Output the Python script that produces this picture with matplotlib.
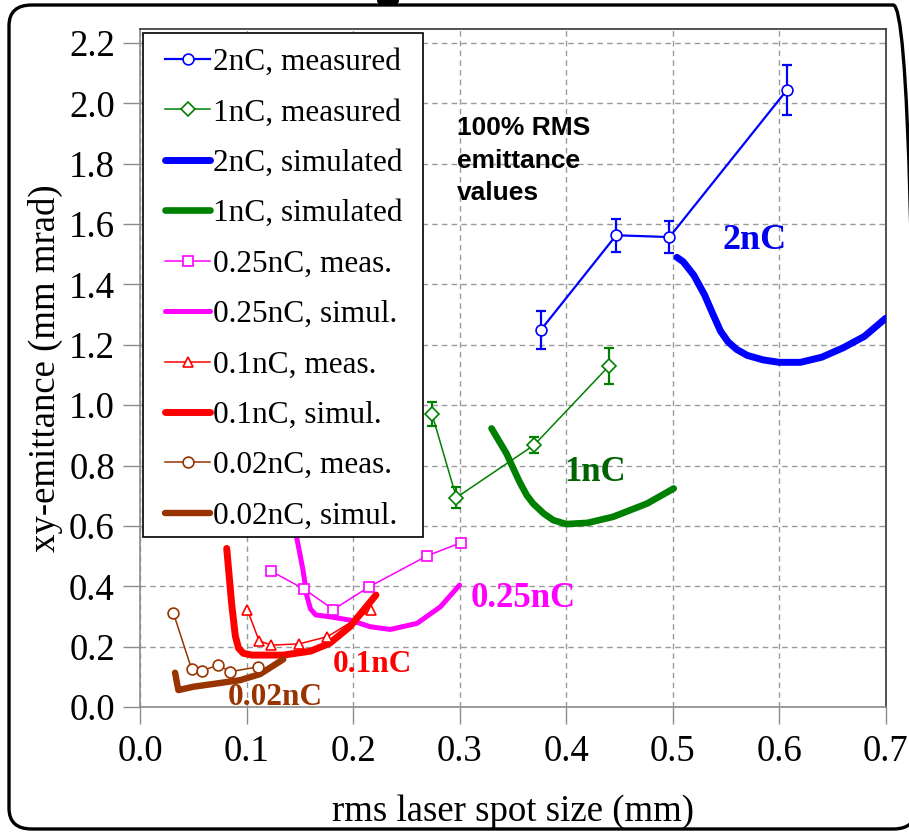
import matplotlib
matplotlib.use("Agg")
import matplotlib.pyplot as plt
from matplotlib.patches import FancyBboxPatch, Ellipse, Rectangle

# ---------------- data ----------------
x_2nC_meas = [0.376, 0.447, 0.497, 0.607]
y_2nC_meas = [1.248, 1.563, 1.557, 2.043]
e_2nC_meas = [0.063, 0.055, 0.052, 0.083]

x_1nC_meas = [0.274, 0.297, 0.370, 0.440]
y_1nC_meas = [0.972, 0.694, 0.868, 1.129]
e_1nC_meas = [0.040, 0.036, 0.028, 0.060]

x_2nC_sim = [0.504, 0.510, 0.520, 0.530, 0.538, 0.545, 0.552, 0.560, 0.570, 0.585, 0.600, 0.620, 0.640, 0.660, 0.680, 0.700]
y_2nC_sim = [1.490, 1.475, 1.430, 1.365, 1.300, 1.245, 1.210, 1.185, 1.165, 1.150, 1.142, 1.142, 1.159, 1.190, 1.228, 1.288]

x_1nC_sim = [0.330, 0.344, 0.354, 0.357, 0.363, 0.369, 0.379, 0.388, 0.400, 0.420, 0.444, 0.476, 0.501]
y_1nC_sim = [0.923, 0.840, 0.763, 0.741, 0.702, 0.674, 0.641, 0.619, 0.606, 0.610, 0.630, 0.674, 0.724]

x_025_meas = [0.123, 0.154, 0.1815, 0.215, 0.269, 0.301]
y_025_meas = [0.450, 0.391, 0.323, 0.398, 0.500, 0.544]

x_025_sim = [0.145, 0.147, 0.153, 0.1565, 0.160, 0.165, 0.178, 0.197, 0.216, 0.235, 0.260, 0.282, 0.300]
y_025_sim = [0.650, 0.563, 0.454, 0.370, 0.325, 0.305, 0.299, 0.288, 0.266, 0.257, 0.277, 0.332, 0.404]

x_01_meas = [0.1007, 0.1117, 0.123, 0.149, 0.176, 0.2165]
y_01_meas = [0.323, 0.220, 0.205, 0.209, 0.233, 0.321]

x_01_sim = [0.0814, 0.086, 0.0895, 0.0925, 0.097, 0.105, 0.1345, 0.160, 0.178, 0.197, 0.2215]
y_01_sim = [0.5255, 0.343, 0.235, 0.195, 0.178, 0.172, 0.172, 0.185, 0.211, 0.266, 0.371]

x_002_meas = [0.0313, 0.0485, 0.058, 0.0735, 0.0845, 0.111]
y_002_meas = [0.312, 0.125, 0.120, 0.139, 0.117, 0.133]

x_002_sim = [0.0329, 0.036, 0.050, 0.072, 0.094, 0.1127, 0.1345]
y_002_sim = [0.1137, 0.056, 0.067, 0.078, 0.089, 0.109, 0.158]

x_ticks = [0.0, 0.1, 0.2, 0.3, 0.4, 0.5, 0.6, 0.7]
y_ticks = [0.0, 0.2, 0.4, 0.6, 0.8, 1.0, 1.2, 1.4, 1.6, 1.8, 2.0, 2.2]

BLUE = "#0000FF"
GREEN = "#008000"
MAG = "#FF00FF"
RED = "#FF0000"
BROWN = "#993300"

plt.rcParams["font.family"] = ["Liberation Serif", "DejaVu Serif"]

W, H = 909, 832
fig = plt.figure(figsize=(W / 100, H / 100), dpi=100)
ax = fig.add_axes([140 / W, 1 - 707 / H, 745.7 / W, (707 - 29) / H])
ax.set_xlim(0, 0.7)
ax.set_ylim(0, 2.2 * 678 / 664)

ax.set_xticks(x_ticks)
ax.set_yticks(y_ticks)
ax.set_xticklabels([f"{v:.1f}" for v in x_ticks])
ax.set_yticklabels([f"{v:.1f}" for v in y_ticks])
ax.grid(True, color="#9a9a9a", linestyle=(0, (4, 3)), linewidth=1.0)
ax.set_axisbelow(True)
ax.tick_params(axis="both", direction="out", length=12, width=1.0, color="#8c8c8c",
               labelsize=26.5, labelcolor="black")
ax.tick_params(axis="x", pad=8)
ax.tick_params(axis="y", pad=6)
for s in ["left", "bottom"]:
    ax.spines[s].set_color("#8c8c8c")
    ax.spines[s].set_linewidth(1.2)
for s in ["top", "right"]:
    ax.spines[s].set_color("#333333")
    ax.spines[s].set_linewidth(1.2)

ms_kw = dict(markerfacecolor="white")

l_2m, = ax.plot(x_2nC_meas, y_2nC_meas, "-o", color=BLUE, lw=1.6, ms=7.8, mew=1.2, zorder=5, **ms_kw)
ax.errorbar(x_2nC_meas, y_2nC_meas, yerr=e_2nC_meas, fmt="none", ecolor=BLUE, elinewidth=1.6,
            capsize=3.8, capthick=1.6, zorder=4)
l_1m, = ax.plot(x_1nC_meas, y_1nC_meas, "-D", color=GREEN, lw=1.1, ms=6.8, mew=1.2, zorder=5, **ms_kw)
ax.errorbar(x_1nC_meas, y_1nC_meas, yerr=e_1nC_meas, fmt="none", ecolor=GREEN, elinewidth=1.6,
            capsize=3.8, capthick=1.6, zorder=4)
l_2s, = ax.plot(x_2nC_sim, y_2nC_sim, "-", color=BLUE, lw=5.0, solid_capstyle="round",
                solid_joinstyle="round", zorder=3)
l_1s, = ax.plot(x_1nC_sim, y_1nC_sim, "-", color=GREEN, lw=4.8, solid_capstyle="round",
                solid_joinstyle="round", zorder=3)
l_25m, = ax.plot(x_025_meas, y_025_meas, "-s", color=MAG, lw=1.1, ms=7.9, mew=1.2, zorder=5, **ms_kw)
l_25s, = ax.plot(x_025_sim, y_025_sim, "-", color=MAG, lw=3.6, solid_capstyle="round",
                 solid_joinstyle="round", zorder=3)
l_1m01, = ax.plot(x_01_meas, y_01_meas, "-^", color=RED, lw=1.1, ms=7.8, mew=1.2, zorder=5, **ms_kw)
l_1s01, = ax.plot(x_01_sim, y_01_sim, "-", color=RED, lw=5.0, solid_capstyle="round",
                  solid_joinstyle="round", zorder=3)
l_02m, = ax.plot(x_002_meas, y_002_meas, "-o", color=BROWN, lw=1.1, ms=7.8, mew=1.2, zorder=5, **ms_kw)
l_02s, = ax.plot(x_002_sim, y_002_sim, "-", color=BROWN, lw=4.6, solid_capstyle="round",
                 solid_joinstyle="round", zorder=3)

ax.text(0.577, 1.546, "2nC", color="#0000EE", fontsize=26, fontweight="bold", ha="center", va="center", zorder=6)
ax.text(0.427, 0.778, "1nC", color="#006400", fontsize=25, fontweight="bold", ha="center", va="center", zorder=6)
ax.text(0.360, 0.360, "0.25nC", color=MAG, fontsize=25, fontweight="bold", ha="center", va="center", zorder=6)
ax.text(0.218, 0.142, "0.1nC", color=RED, fontsize=22.5, fontweight="bold", ha="center", va="center", zorder=6)
ax.text(0.127, 0.033, "0.02nC", color=BROWN, fontsize=22.5, fontweight="bold", ha="center", va="center", zorder=6)

ax.text(0.2976, 1.958, "100% RMS\nemittance\nvalues", family=["Liberation Sans", "DejaVu Sans"],
        fontsize=19, fontweight="bold", color="black", ha="left", va="top", linespacing=1.45, zorder=6)

ax.set_xlabel("rms laser spot size (mm)", fontsize=26.5, labelpad=18)
ax.set_ylabel("xy-emittance (mm mrad)", fontsize=26.5, labelpad=4)

# legend box (drawn separately for exact padding)
box = Rectangle((143 / W, 1 - 537 / H), (423 - 143) / W, (537 - 33) / H, transform=fig.transFigure,
                facecolor="white", edgecolor="black", linewidth=1.2, zorder=9)
fig.patches.append(box)

handles = [l_2m, l_1m, l_2s, l_1s, l_25m, l_25s, l_1m01, l_1s01, l_02m, l_02s]
labels = ["2nC, measured", "1nC, measured", "2nC, simulated", "1nC, simulated",
          "0.25nC, meas.", "0.25nC, simul.", "0.1nC, meas.", "0.1nC, simul.",
          "0.02nC, meas.", "0.02nC, simul."]
leg = fig.legend(handles, labels, loc="upper left", bbox_to_anchor=(165 / W, 1 - 48 / H),
                 bbox_transform=fig.transFigure, borderaxespad=0, fontsize=22.5,
                 handlelength=1.44, handletextpad=0.1, borderpad=0, labelspacing=0.685,
                 numpoints=1, frameon=False)
leg.set_zorder(10)

frame = FancyBboxPatch((9 / W, 1 - 829 / H), (916 - 9) / W, (829 - 5) / H,
                       boxstyle="round,pad=0,rounding_size=0.025", transform=fig.transFigure,
                       facecolor="none", edgecolor="black", linewidth=2.4, clip_on=False)
fig.patches.append(frame)
blob = Ellipse((388 / W, 1 - 1 / H), 22 / W, 10 / H, transform=fig.transFigure,
               facecolor="black", edgecolor="none")
fig.patches.append(blob)

fig.savefig("out.png", dpi=100)
